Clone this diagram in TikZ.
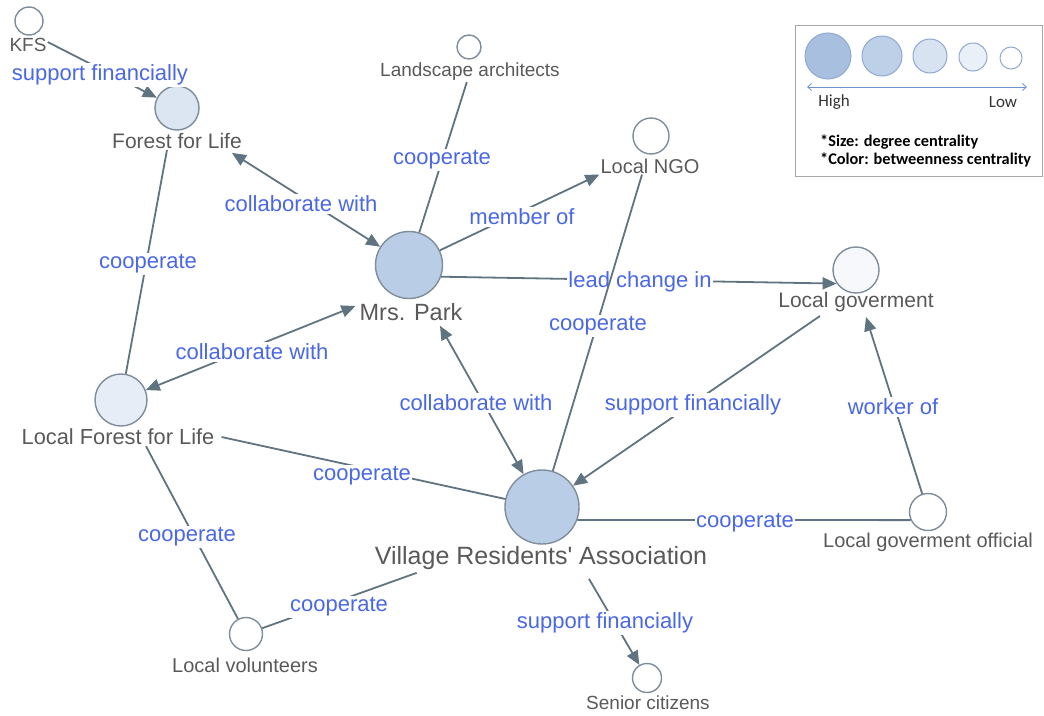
\documentclass[tikz,border=0pt]{standalone}
\usepackage{fontspec}
\setmainfont{Liberation Sans}
\newfontfamily\legfont{Carlito}
\newfontfamily\plainfont[Ligatures=NoCommon]{Liberation Sans}
\usetikzlibrary{arrows.meta}
\definecolor{edgecol}{HTML}{5F7480}
\definecolor{ndline}{HTML}{7E8D9C}
\definecolor{lblgray}{HTML}{595959}
\definecolor{elblue}{HTML}{4A68E6}
\definecolor{fB}{HTML}{BACDE6}
\definecolor{fC}{HTML}{DCE5F2}
\definecolor{fD}{HTML}{E6EDF6}
\definecolor{fE}{HTML}{F6F8FB}
\definecolor{lg1}{HTML}{A9BFDF}
\definecolor{lg2}{HTML}{BDD0E8}
\definecolor{lg3}{HTML}{D8E3F1}
\definecolor{lg4}{HTML}{EAF0F8}
\definecolor{lgline}{HTML}{8EA9D1}
\definecolor{lgarrow}{HTML}{6A93CF}
\definecolor{boxgray}{HTML}{A6A6A6}
\tikzset{
  nd/.style={circle, draw=ndline, line width=1.4pt, inner sep=0pt, minimum size=#1},
  lbl/.style={text=lblgray, inner sep=1pt, font=\fontsize{#1}{#1}\selectfont},
  ed/.style={draw=edgecol, line width=1.8pt},
  el/.style={fill=white, text=elblue, inner sep=1.5pt, font=\fontsize{22}{22}\selectfont},
  arr/.style={-{Triangle[length=14pt,width=12pt]}},
  darr/.style={{Triangle[length=14pt,width=12pt]}-{Triangle[length=14pt,width=12pt]}},
  lgc/.style={circle, draw=lgline, line width=1pt, inner sep=0pt, minimum size=#1},
  legtxt/.style={font=\legfont\bfseries\fontsize{16.3}{16.3}\selectfont, anchor=west, inner sep=0pt},
}
\begin{document}
\begin{tikzpicture}[x=1pt,y=-1pt]
\useasboundingbox (0,0) rectangle (1044,715);
% circles
\node[nd=28pt, fill=white] (kfs) at (29,21) {};
\node[nd=44pt, fill=fC] (ffl) at (177,108) {};
\node[nd=24pt, fill=white] (la) at (469,47) {};
\node[nd=36pt, fill=white] (ngo) at (651,136) {};
\node[nd=67pt, fill=fB] (mp) at (409,265) {};
\node[nd=46pt, fill=fE] (lg) at (856,270) {};
\node[nd=52pt, fill=fD] (lffl) at (121,400) {};
\node[nd=74pt, fill=fB] (vra) at (542,507) {};
\node[nd=37pt, fill=white] (lgo) at (928,512) {};
\node[nd=33pt, fill=white] (vol) at (246,634) {};
\node[nd=29pt, fill=white] (sc) at (647,678) {};
% labels
\node[lbl=19] (kfs-l) at (28,45) {KFS};
\node[lbl=21] (ffl-l) at (177,141) {Forest for Life};
\node[lbl=19] (la-l) at (470,72) {Landscape architects};
\node[lbl=20] (ngo-l) at (650,166) {Local NGO};
\node[lbl=23.5] (mp-l) at (411,312) {Mrs. Park};
\node[lbl=21] (lg-l) at (856,302) {Local goverment};
\node[lbl=21.8] (lffl-l) at (118,437) {Local Forest for Life};
\node[lbl=25] (vra-l) at (541,558) {\plainfont Village Residents' Association};
\node[lbl=20] (lgo-l) at (928,542) {Local goverment official};
\node[lbl=20] (vol-l) at (245,665) {Local volunteers};
\node[lbl=19] (sc-l) at (648,703) {Senior citizens};
% edges
\draw[ed,arr] ([yshift=3pt]kfs-l.east) -- (ffl) node[el] at (100,75) {support financially};
\draw[ed,darr] ([xshift=-11pt,yshift=-3pt]ffl-l.south east) -- (mp) node[el] at (301,204) {collaborate with};
\draw[ed] ([xshift=-10pt]ffl-l.south) -- (lffl) node[el] at (148,264) {cooperate};
\draw[ed,darr] (lffl) -- ([xshift=-3pt,yshift=6pt]mp-l.west) node[el] at (252,352) {collaborate with};
\draw[ed] (la-l) -- (mp) node[el] at (442,160) {cooperate};
\draw[ed,arr] (mp) -- (ngo-l.south west) node[el] at (522,217) {member of};
\draw[ed,arr] (mp.-20) -- (lg.215) node[el] at (640,282) {lead change in};
\draw[ed] ([xshift=-8pt]ngo-l.south) -- (vra) node[el] at (598,326) {cooperate};
\draw[ed,darr] ([xshift=29pt,yshift=-4pt]mp-l.south) -- (vra) node[el] at (476,403) {collaborate with};
\draw[ed,arr] ([xshift=-36pt,yshift=-3pt]lg-l.south) -- (vra) node[el] at (693,405) {support financially};
\draw[ed,arr] (lgo) -- ([xshift=10pt,yshift=-4pt]lg-l.south) node[el] at (893,407) {worker of};
\draw[ed] ([xshift=6pt]lffl-l.east) -- (vra) node[el] at (362,476) {cooperate};
\draw[ed] ([xshift=28pt]lffl-l.south) -- (vol) node[el] at (187,537) {cooperate};
\draw[ed] (vol) -- ([xshift=43pt,yshift=-2pt]vra-l.south west) node[el] at (339,607) {cooperate};
\draw[ed] (vra.-20) -- (lgo.205) node[el] at (745,523) {cooperate};
\draw[ed,arr] ([xshift=48pt,yshift=-8pt]vra-l.south) -- (sc) node[el] at (605,623) {support financially};
% legend
\node[draw=boxgray, line width=1pt, minimum width=247pt, minimum height=151pt, inner sep=0pt] (box) at (918.5,100.5) {};
\node[lgc=46pt, fill=lg1] (c1) at (828,56) {};
\node[lgc=40pt, fill=lg2] (c2) at (882,56) {};
\node[lgc=34pt, fill=lg3] (c3) at (930,56) {};
\node[lgc=28pt, fill=lg4] (c4) at (973,57) {};
\node[lgc=22pt, fill=white] (c5) at (1011,58) {};
\coordinate (la1) at (807,87);
\coordinate (la2) at (1027,87);
\draw[lgarrow, line width=0.8pt, {Straight Barb[length=4pt,width=7pt]}-{Straight Barb[length=4pt,width=7pt]}] (la1) -- (la2);
\node[font=\legfont\fontsize{17}{17}\selectfont, text=black!80, inner sep=0pt] (hi) at (834,102) {High};
\node[font=\legfont\fontsize{17}{17}\selectfont, text=black!80, inner sep=0pt] (lo) at (1003,102) {Low};
\node[legtxt] (s1) at (820,142) {*Size: degree centrality};
\node[legtxt] (s2) at (820,160) {*Color: betweenness centrality};
\end{tikzpicture}
\end{document}
